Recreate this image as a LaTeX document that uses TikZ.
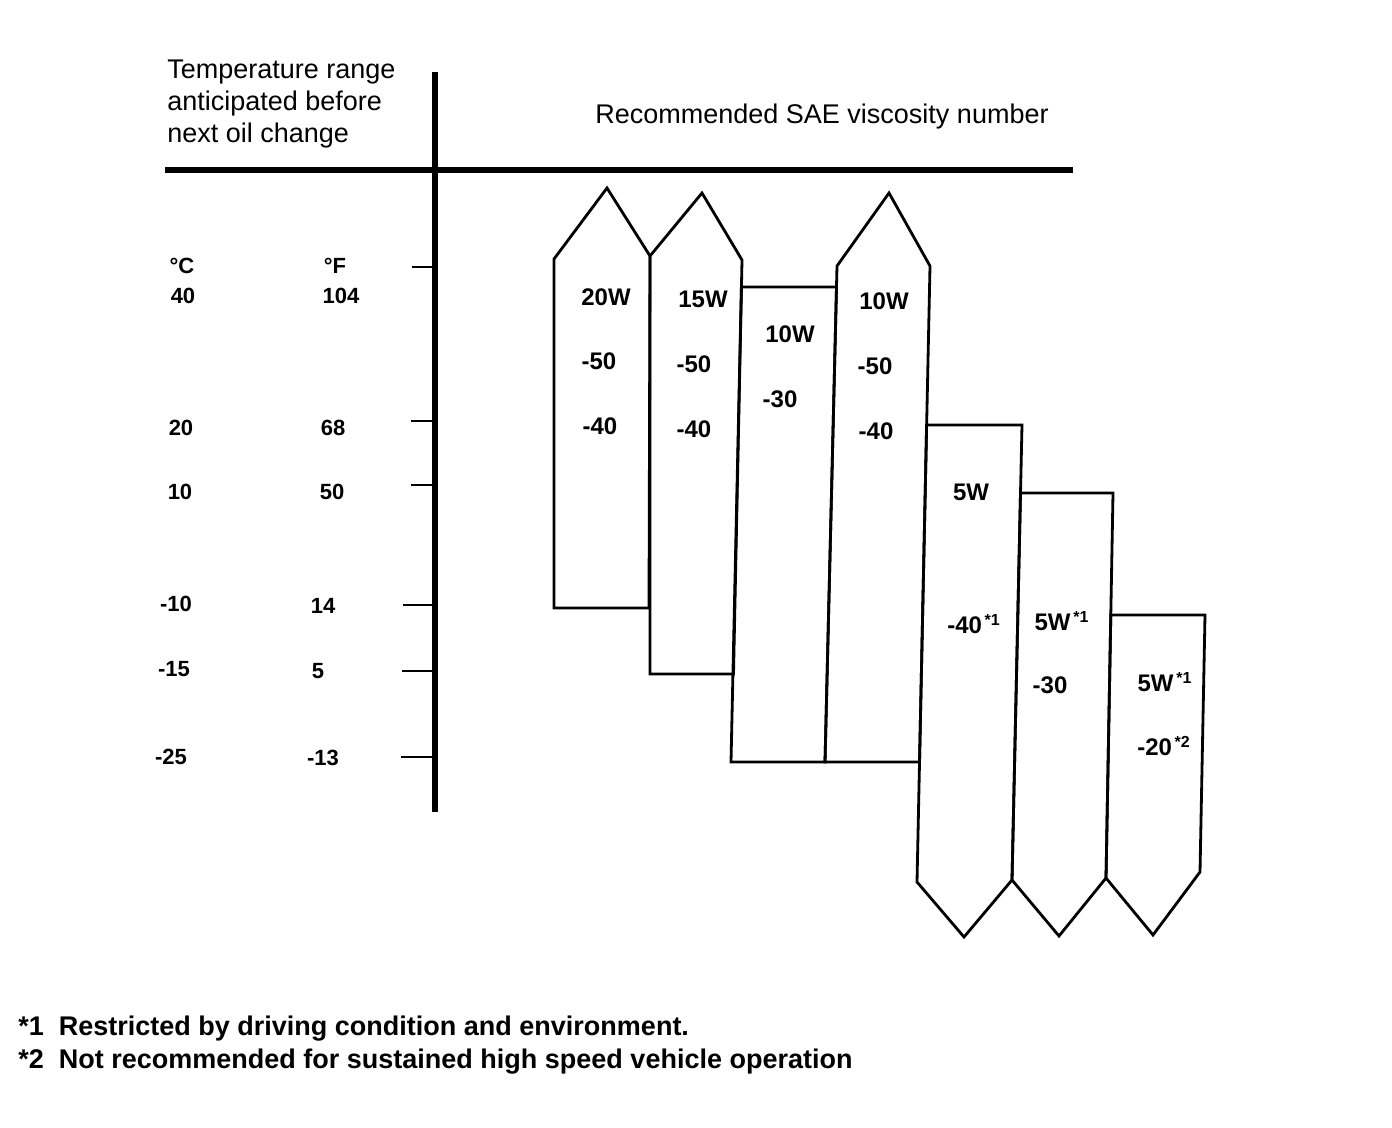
\documentclass[tikz,border=0pt]{standalone}
\usepackage{fontspec}
\setmainfont{Liberation Sans}
\usetikzlibrary{positioning}
\tikzset{
  axisline/.style={line width=2.6pt},
  tickline/.style={line width=1.3pt},
  band/.style={line width=1.4pt, line join=miter},
  grade/.style={inner sep=0pt, font=\fontsize{12}{14}\bfseries\selectfont},
  scalelbl/.style={inner sep=0pt, font=\fontsize{11}{13}\bfseries\selectfont},
  headtxt/.style={inner sep=0pt, align=left, font=\fontsize{13.5}{16}\selectfont},
  notetxt/.style={inner sep=0pt, anchor=west, font=\fontsize{13.5}{16}\bfseries\selectfont},
}
\newcommand{\fnmark}[1]{\textsuperscript{\,*#1}}

\begin{document}
\begin{tikzpicture}[x=0.5pt, y=-0.5pt]
  \useasboundingbox (0,0) rectangle (1392,1128);
  % Frame of the chart
  \draw[axisline] (435,72) -- (435,812);
  \draw[axisline] (165,170) -- (1073,170);
  \node[headtxt, anchor=west] (temphead) at (167,104)
    {Temperature range\\anticipated before\\next oil change};
  \node[headtxt] (saehead) at (822,117) {Recommended SAE viscosity number};
  % Ticks on the temperature axis
  \foreach \t/\x in {267/412, 421/411, 485/411, 605/403, 671/402, 757/401}
    \draw[tickline] (\x,\t) -- (435,\t);
  % Scale labels
  \node[scalelbl] (unitc) at (182,266) {°C};
  \node[scalelbl] (unitf) at (335,266) {°F};
  \foreach \c/\cx/\cy [count=\i] in {40/183/296, 20/181/428, 10/180/492,
      -10/176/604, -15/174/669, -25/171/757}
    \node[scalelbl] (degc\i) at (\cx,\cy) {\c};
  \foreach \f/\fx/\fy [count=\i] in {104/341/296, 68/333/428, 50/332/492,
      14/323/606, 5/318/671, -13/323/758}
    \node[scalelbl] (degf\i) at (\fx,\fy) {\f};
  % Viscosity bands
  % 20W-50, 20W-40
  \draw[band] (554,608) -- (554,259) -- (607,188) -- (650,256) -- (649,608) -- cycle;
  % 15W-50, 15W-40
  \draw[band] (650,674) -- (650,256) -- (702,193) -- (742,260) -- (733.5,674) -- cycle;
  % 10W-30
  \draw[band] (741.4,287) -- (836.5,287) -- (825,762) -- (731,762) -- cycle;
  % 10W-50, 10W-40
  \draw[band] (825,762) -- (837,266) -- (889,193) -- (930,266) -- (919.5,762) -- cycle;
  % 5W-40
  \draw[band] (926.6,425) -- (1022,425) -- (1012,880) -- (964,937) -- (917,882) -- cycle;
  % 5W-30
  \draw[band] (1020.5,493) -- (1113,493) -- (1106,878) -- (1059,936) -- (1012,880) -- cycle;
  % 5W-20
  \draw[band] (1110.8,615) -- (1205,615) -- (1200,872) -- (1153,935) -- (1106,878) -- cycle;
  % Grade labels
  \node[grade] (a20w) at (606,297) {20W};
  \node[grade] (a20h) at (599,361) {-50};
  \node[grade] (a20l) at (600,426) {-40};
  \node[grade] (a15w) at (703,299) {15W};
  \node[grade] (a15h) at (694,364) {-50};
  \node[grade] (a15l) at (694,429) {-40};
  \node[grade] (b10w) at (790,334) {10W};
  \node[grade] (b10h) at (780,399) {-30};
  \node[grade] (c10w) at (884,301) {10W};
  \node[grade] (c10h) at (875,366) {-50};
  \node[grade] (c10l) at (876,431) {-40};
  \node[grade] (d5w) at (971,492) {5W};
  \node[grade] (d5h) at (974,624) {-40\fnmark{1}};
  \node[grade] (e5w) at (1062,621) {5W\fnmark{1}};
  \node[grade] (e5h) at (1050,685) {-30};
  \node[grade] (f5w) at (1165,682) {5W\fnmark{1}};
  \node[grade] (f5h) at (1164,746) {-20\fnmark{2}};
  % Footnotes
  \node[notetxt] (note1) at (18,1029) {*1\ \ Restricted by driving condition and environment.};
  \node[notetxt] (note2) at (18,1062) {*2\ \ Not recommended for sustained high speed vehicle operation};
\end{tikzpicture}
\end{document}
